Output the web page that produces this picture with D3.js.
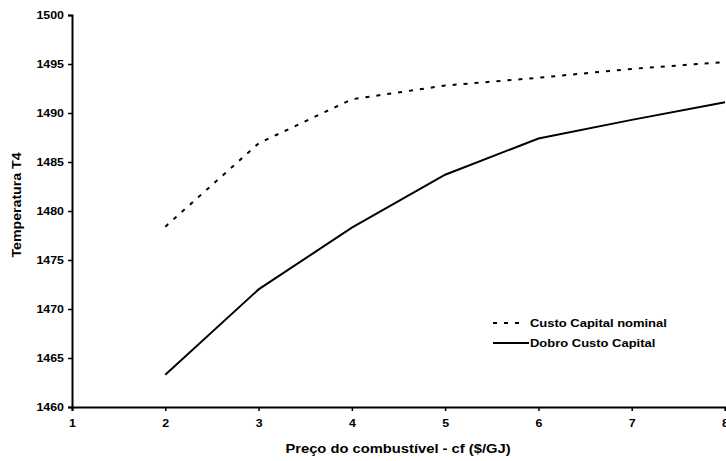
<!DOCTYPE html>
<html>
<head>
<meta charset="utf-8">
<script src="https://cdn.jsdelivr.net/npm/d3@7"></script>
<style>
  body { margin: 0; background: #fff; }
  svg { display: block; font-family: "Liberation Sans", Arial, sans-serif; font-weight: bold; }
</style>
</head>
<body>
<div id="chart"></div>
<script>
// fuel price cf ($/GJ)
var precos = [2, 3, 4, 5, 6, 7, 8];
// temperature T4 for both capital cost cases
var custoNominal = [1478.4, 1486.9, 1491.4, 1492.8, 1493.6, 1494.5, 1495.2];
var dobroCusto = [1463.3, 1472.0, 1478.3, 1483.7, 1487.4, 1489.3, 1491.1];
var xTicks = [1, 2, 3, 4, 5, 6, 7, 8];
var yTicks = [1460, 1465, 1470, 1475, 1480, 1485, 1490, 1495, 1500];

var width = 726, height = 461;
var margin = {top: 15, right: 1, bottom: 54, left: 72};
var stretch = "scale(1.18,1)"; // the original text is drawn a bit wide

var svg = d3.select("#chart")
    .append("svg")
    .attr("width", width)
    .attr("height", height);

var x = d3.scaleLinear()
    .domain([1, 8])
    .range([margin.left, width - margin.right]);

var y = d3.scaleLinear()
    .domain([1460, 1500])
    .range([height - margin.bottom, margin.top]);

// axes
var xAxis = svg.append("g")
    .attr("transform", "translate(0," + y(1460) + ")")
    .call(d3.axisBottom(x).tickValues(xTicks).tickFormat(d3.format("d")).tickSizeOuter(0).tickSize(4).tickPadding(9));

var yAxis = svg.append("g")
    .attr("transform", "translate(" + x(1) + ",0)")
    .call(d3.axisLeft(y).tickValues(yTicks).tickFormat(d3.format("d")).tickSizeOuter(0).tickSize(4).tickPadding(4));

[xAxis, yAxis].forEach(function (a) {
    a.select(".domain").attr("stroke", "#000").attr("stroke-width", 2);
    a.selectAll(".tick line").attr("stroke", "#000").attr("stroke-width", 1.5);
    a.selectAll(".tick text")
        .attr("fill", "#000")
        .style("font-family", "'Liberation Sans', Arial, sans-serif")
        .style("font-weight", "bold")
        .style("font-size", "10.5px");
});

xAxis.selectAll(".tick text").attr("transform", stretch);
yAxis.selectAll(".tick text")
    .attr("x", 0)
    .attr("transform", "translate(-8,0) " + stretch);

// axis titles
svg.append("text")
    .attr("transform", "translate(398,453) " + stretch)
    .attr("text-anchor", "middle")
    .style("font-size", "12.5px")
    .text("Preço do combustível - cf ($/GJ)");

svg.append("text")
    .attr("transform", "translate(21,205) rotate(-90) " + stretch)
    .attr("text-anchor", "middle")
    .style("font-size", "12px")
    .text("Temperatura T4");

// lines
var line = d3.line()
    .x(function (d) { return x(d[0]); })
    .y(function (d) { return y(d[1]); });

svg.append("path")
    .datum(d3.zip(precos, custoNominal))
    .attr("d", line)
    .attr("fill", "none")
    .attr("stroke", "#000")
    .attr("stroke-width", 2)
    .attr("stroke-dasharray", "4,7");

svg.append("path")
    .datum(d3.zip(precos, dobroCusto))
    .attr("d", line)
    .attr("fill", "none")
    .attr("stroke", "#000")
    .attr("stroke-width", 2);

// legend
var legend = [
    {name: "Custo Capital nominal", dash: "4,7", y: 323},
    {name: "Dobro Custo Capital", dash: null, y: 343}
];

var lg = svg.selectAll(".legend")
    .data(legend)
    .enter()
    .append("g")
    .attr("class", "legend");

lg.append("line")
    .attr("x1", 493)
    .attr("x2", function (d) { return d.dash ? 525 : 529; })
    .attr("y1", function (d) { return d.y; })
    .attr("y2", function (d) { return d.y; })
    .attr("stroke", "#000")
    .attr("stroke-width", 2)
    .attr("stroke-dasharray", function (d) { return d.dash; });

lg.append("text")
    .attr("transform", function (d) { return "translate(530," + (d.y + 4) + ") " + stretch; })
    .style("font-size", "11px")
    .text(function (d) { return d.name; });
</script>
</body>
</html>
